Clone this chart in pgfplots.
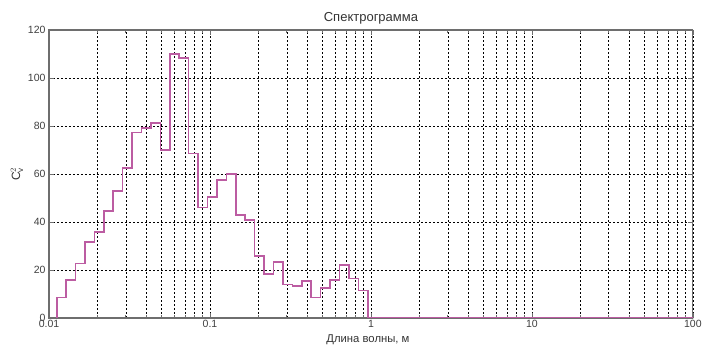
\documentclass[border=0pt]{standalone}
\usepackage{pgfplots}
\pgfplotsset{compat=1.18}
\usepackage{fontspec}
\setmainfont{Liberation Sans}
\definecolor{spec}{RGB}{188,92,162}
\definecolor{axgray}{RGB}{110,110,110}
\begin{document}
\begin{tikzpicture}
\begin{axis}[
  scale only axis, width=644pt, height=288pt,
  xmode=log, xmin=0.01, xmax=100, ymin=0, ymax=120,
  xtick={0.01,0.1,1,10,100}, xticklabels={0.01,0.1,1,10,100},
  minor xtick={0.02,0.03,0.04,0.05,0.06,0.07,0.08,0.09,
               0.2,0.3,0.4,0.5,0.6,0.7,0.8,0.9,
               2,3,4,5,6,7,8,9,
               20,30,40,50,60,70,80,90},
  ytick={0,20,...,120},
  grid=both,
  major grid style={black, line width=0.5pt, dash pattern=on 2pt off 2pt},
  minor grid style={black, line width=0.5pt, dash pattern=on 2pt off 2pt},
  tick align=inside, major tick length=5pt, minor tick length=3pt,
  tick style={axgray, line width=0.6pt},
  axis line style={axgray, line width=1.1pt},
  /pgf/number format/assume math mode=true,
  tick label style={font=\fontsize{10.5}{12}\selectfont, text=black!75},
  xticklabel style={yshift=1pt},
  title={Спектрограмма},
  title style={font=\fontsize{13}{15}\selectfont, text=black!80, yshift=-4pt},
  xlabel={Длина волны, м},
  xlabel style={font=\fontsize{11.3}{13}\selectfont, text=black!80, yshift=0pt, xshift=-3pt},
  ylabel={C$_{\mathrm{v}}^{2}$},
  ylabel style={font=\fontsize{12}{14}\selectfont, text=black!80, yshift=-2pt},
]
\addplot[const plot, spec, line width=1.6pt] coordinates {
(0.011169,0) (0.011169,8.5)
(0.012781,15.7)
(0.014625,22.7)
(0.016736,31.7)
(0.019151,35.9)
(0.021915,44.6)
(0.025078,53.0)
(0.028697,62.6)
(0.032838,77.3)
(0.037577,79.1)
(0.043000,81.3)
(0.049205,70.0)
(0.056306,110.0)
(0.064432,108.3)
(0.073730,68.5)
(0.084370,46.0)
(0.096546,50.5)
(0.110479,57.4)
(0.126423,59.9)
(0.144667,42.8)
(0.165545,40.7)
(0.189435,25.8)
(0.216773,18.2)
(0.248056,23.3)
(0.283854,14.0)
(0.324818,13.2)
(0.371693,15.3)
(0.425333,8.5)
(0.486715,12.5)
(0.556953,15.7)
(0.637328,22.0)
(0.729303,16.4)
(0.834551,11.5)
(0.954988,0)
(100,0)
};
\end{axis}
\path[use as bounding box] (-49pt,-31pt) rectangle (656pt,318pt);
\end{tikzpicture}
\end{document}
